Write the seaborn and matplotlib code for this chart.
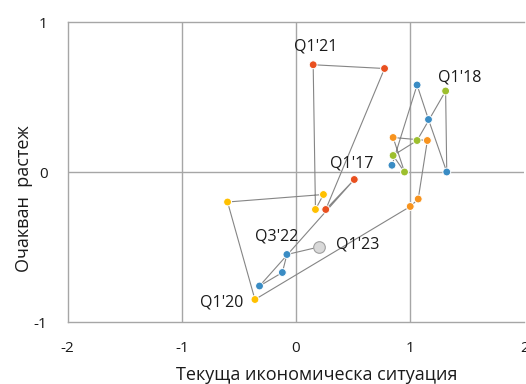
import matplotlib
matplotlib.use("Agg")
import matplotlib.pyplot as plt
import seaborn as sns
import pandas as pd

# ---- data ----
quarters = ["Q1'17", "Q2'17", "Q3'17", "Q4'17",
            "Q1'18", "Q2'18", "Q3'18", "Q4'18",
            "Q1'19", "Q2'19", "Q3'19", "Q4'19",
            "Q1'20", "Q2'20", "Q3'20", "Q4'20",
            "Q1'21", "Q2'21", "Q3'21", "Q4'21",
            "Q1'22", "Q2'22", "Q3'22",
            "Q1'23"]
years = ["2017"] * 4 + ["2018"] * 4 + ["2019"] * 4 + ["2020"] * 4 + ["2021"] * 4 + ["2022"] * 3 + ["2023"]
current_situation = [0.84, 1.06, 1.16, 1.32,
                     1.31, 1.06, 0.85, 0.95,
                     0.85, 1.15, 1.07, 1.00,
                     -0.36, -0.60, 0.24, 0.17,
                     0.15, 0.775, 0.26, 0.51,
                     -0.32, -0.12, -0.08,
                     0.20]
expected_growth = [0.045, 0.58, 0.35, 0.0,
                   0.54, 0.21, 0.11, 0.0,
                   0.23, 0.21, -0.18, -0.23,
                   -0.85, -0.20, -0.15, -0.25,
                   0.715, 0.69, -0.25, -0.05,
                   -0.76, -0.67, -0.55,
                   -0.50]
year_colors = {"2017": "#3A8CC4", "2018": "#9DBF2E", "2019": "#F7931E",
               "2020": "#FFC000", "2021": "#E9501F", "2022": "#3A8CC4",
               "2023": "#D9D9D9"}
labelled = ["Q1'17", "Q1'18", "Q1'20", "Q1'21", "Q3'22", "Q1'23"]
label_offsets = {"Q1'17": (-29, 1), "Q1'18": (10, 10), "Q1'20": (-24, -2),
                 "Q1'21": (1.5, 13), "Q3'22": (-7.5, 13), "Q1'23": (28, 1.5)}
x_ticks = [-2, -1, 0, 1, 2]
y_ticks = [-1, 0, 1]
x_label = "Текуща икономическа ситуация"
y_label = "Очакван  растеж"

df = pd.DataFrame({"q": quarters, "year": years,
                   "x": current_situation, "y": expected_growth})

sns.set_theme(style="white")
plt.rcParams["font.family"] = ["Open Sans", "DejaVu Sans"]

fig = plt.figure(figsize=(5.26, 3.84), dpi=100)
W, H = 526, 384
ax = fig.add_axes([67.7 / W, 1 - 322 / H, 456.7 / W, 300 / H])

grid_c = "#A6A6A6"
for v in x_ticks[1:-1]:
    ax.axvline(v, color=grid_c, lw=1.0, zorder=0)
for v in y_ticks[1:-1]:
    ax.axhline(v, color=grid_c, lw=1.0, zorder=0)

sns.lineplot(data=df, x="x", y="y", sort=False, estimator=None,
             color="#858585", lw=0.8, ax=ax, zorder=1)

main = df[df["year"] != "2023"]
last = df[df["year"] == "2023"]
sns.scatterplot(data=main, x="x", y="y", hue="year", palette=year_colors,
                s=32, edgecolor="white", linewidth=0.7, legend=False,
                ax=ax, zorder=3)
sns.scatterplot(data=last, x="x", y="y", color=year_colors["2023"],
                s=70, edgecolor="#A0A0A0", linewidth=0.8, legend=False,
                ax=ax, zorder=3)

for _, r in df[df["q"].isin(labelled)].iterrows():
    ax.annotate(r["q"], (r["x"], r["y"]), xytext=label_offsets[r["q"]],
                textcoords="offset points", ha="center", va="center",
                fontsize=11.5, color="#1a1a1a")

ax.set_xlim(-2, 2)
ax.set_ylim(-1, 1)
ax.set_xticks(x_ticks)
ax.set_yticks(y_ticks)
ax.set_xticklabels([str(t) for t in x_ticks])
ax.set_yticklabels([str(t) for t in y_ticks])
ax.tick_params(axis="both", labelsize=11, colors="#1a1a1a", length=3,
               direction="inout", color=grid_c)
ax.tick_params(axis="x", pad=12)
ax.tick_params(axis="y", pad=13)

for s in ["left", "top", "bottom"]:
    ax.spines[s].set_visible(True)
    ax.spines[s].set_color(grid_c)
    ax.spines[s].set_linewidth(1.0)
ax.spines["right"].set_visible(False)

ax.set_xlabel(x_label, fontsize=13, color="#1a1a1a")
ax.set_ylabel(y_label, fontsize=13, color="#1a1a1a")
ax.xaxis.set_label_coords((317 - 67.7) / 456.7, (322 - 366) / 300)
ax.yaxis.set_label_coords((33 - 67.7) / 456.7, (322 - 199) / 300)

fig.savefig("out.png", dpi=100)
